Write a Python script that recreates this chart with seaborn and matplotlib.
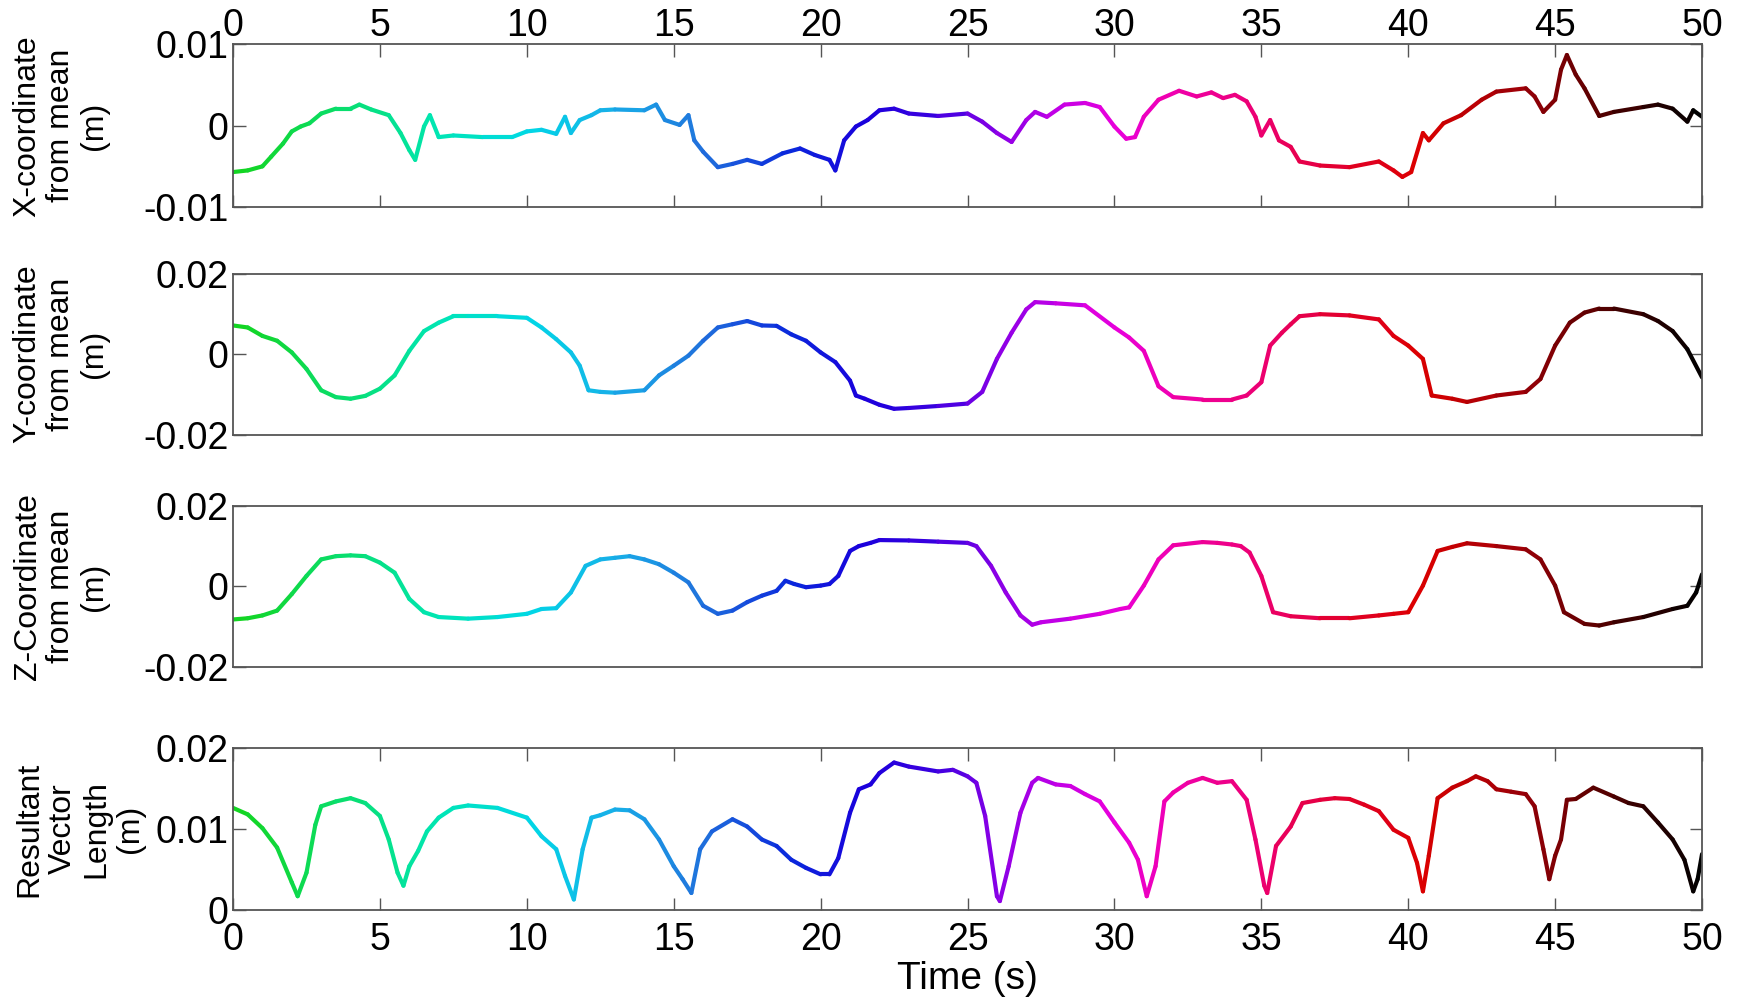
import numpy as np
import pandas as pd
import matplotlib
matplotlib.use("Agg")
import matplotlib.pyplot as plt
from matplotlib.colors import LinearSegmentedColormap
import seaborn as sns

# ---- X-coordinate deviation (m) ----
x_time = [0, 0.5, 1, 1.3, 1.7, 2.0, 2.3, 2.6, 3, 3.5, 4, 4.3, 4.7, 5.3, 5.7, 6.0, 6.2, 6.5, 6.7, 7.0,
          7.5, 8.5, 9.5, 10, 10.5, 11, 11.3, 11.5, 11.8, 12.2, 12.5, 13, 14, 14.4, 14.7, 15.2, 15.5, 15.7, 16, 16.5,
          17, 17.5, 18, 18.7, 19.3, 19.8, 20.3, 20.5, 20.8, 21.2, 21.6, 22, 22.5, 23, 24, 25, 25.5, 26, 26.5, 27,
          27.3, 27.7, 28.3, 29, 29.5, 30, 30.4, 30.7, 31, 31.5, 32.2, 32.8, 33.3, 33.7, 34.1, 34.5, 34.8, 35.0, 35.3, 35.6,
          36, 36.3, 37, 38, 39, 39.5, 39.8, 40.1, 40.5, 40.7, 41.2, 41.8, 42.5, 43, 44, 44.3, 44.6, 45, 45.2, 45.4,
          45.7, 46, 46.5, 47, 48, 48.5, 49, 49.5, 49.7, 50]
x_dev = [-0.0057, -0.0055, -0.0050, -0.0038, -0.0022, -0.0007, -0.0001, 0.0003, 0.0015, 0.0021,
         0.0021, 0.0026, 0.0020, 0.0013, -0.0009, -0.0030, -0.0042, -0.0001, 0.0013, -0.0014,
         -0.0012, -0.0014, -0.0014, -0.0007, -0.0005, -0.0010, 0.0011, -0.0009, 0.0007, 0.0013,
         0.0019, 0.0020, 0.0019, 0.0026, 0.0007, 0.0001, 0.0013, -0.0018, -0.0032, -0.0051,
         -0.0047, -0.0042, -0.0047, -0.0034, -0.0028, -0.0036, -0.0042, -0.0055, -0.0018, -0.0001,
         0.0007, 0.0019, 0.0021, 0.0015, 0.0012, 0.0015, 0.0005, -0.0009, -0.0020, 0.0007,
         0.0017, 0.0011, 0.0026, 0.0028, 0.0023, -0.0001, -0.0016, -0.0014, 0.0011, 0.0032,
         0.0043, 0.0036, 0.0041, 0.0034, 0.0038, 0.0030, 0.0011, -0.0012, 0.0007, -0.0018,
         -0.0026, -0.0044, -0.0049, -0.0051, -0.0044, -0.0055, -0.0063, -0.0057, -0.0009, -0.0018,
         0.0003, 0.0013, 0.0032, 0.0042, 0.0046, 0.0036, 0.0017, 0.0032, 0.0069, 0.0087,
         0.0063, 0.0046, 0.0012, 0.0017, 0.0023, 0.0026, 0.0021, 0.0005, 0.0019, 0.0011]

# ---- Y-coordinate deviation (m) ----
y_time = [0, 0.5, 1, 1.5, 2, 2.5, 3, 3.5, 4, 4.5, 5, 5.5, 6, 6.5, 7, 7.5, 8, 9, 10, 10.5,
          11, 11.5, 11.8, 12.1, 12.5, 13, 14, 14.5, 15, 15.5, 16, 16.5, 17, 17.5, 18, 18.5, 19, 19.5, 20, 20.5,
          21, 21.2, 21.5, 22, 22.5, 23, 24, 25, 25.5, 26, 26.5, 27, 27.3, 28, 29, 30, 30.5, 31, 31.5, 32,
          33, 34, 34.5, 35, 35.3, 35.7, 36, 36.3, 37, 38, 39, 39.5, 40, 40.5, 40.8, 41.5, 42, 43, 44, 44.5,
          45, 45.5, 46, 46.5, 47, 48, 48.5, 49, 49.5, 50]
y_dev = [0.0071, 0.0066, 0.0045, 0.0033, 0.0004, -0.0037, -0.0090, -0.0107, -0.0111, -0.0104,
         -0.0086, -0.0053, 0.0008, 0.0057, 0.0078, 0.0094, 0.0094, 0.0094, 0.0090, 0.0066,
         0.0037, 0.0004, -0.0029, -0.0090, -0.0094, -0.0096, -0.0090, -0.0053, -0.0029, -0.0004,
         0.0033, 0.0066, 0.0074, 0.0082, 0.0071, 0.0070, 0.0049, 0.0033, 0.0004, -0.0020,
         -0.0066, -0.0103, -0.0111, -0.0126, -0.0136, -0.0134, -0.0129, -0.0123, -0.0094, -0.0012,
         0.0053, 0.0111, 0.0129, 0.0126, 0.0121, 0.0066, 0.0041, 0.0008, -0.0080, -0.0107,
         -0.0113, -0.0113, -0.0103, -0.0070, 0.0021, 0.0053, 0.0074, 0.0094, 0.0099, 0.0096,
         0.0086, 0.0045, 0.0021, -0.0012, -0.0103, -0.0111, -0.0119, -0.0103, -0.0094, -0.0062,
         0.0021, 0.0078, 0.0103, 0.0113, 0.0113, 0.0099, 0.0082, 0.0057, 0.0012, -0.0058]

# ---- Z-coordinate deviation (m) ----
z_time = [0, 0.5, 1, 1.5, 2, 2.5, 3, 3.5, 4, 4.5, 5, 5.5, 6, 6.5, 7, 8, 9, 10, 10.5, 11,
          11.5, 12, 12.5, 13, 13.5, 14, 14.5, 15, 15.5, 16, 16.5, 17, 17.5, 18, 18.5, 18.8, 19.1, 19.5, 20, 20.3,
          20.6, 21, 21.3, 21.7, 22, 23, 24, 25, 25.3, 25.8, 26.3, 26.8, 27.2, 27.5, 28.5, 29.5, 30.2, 30.5, 31, 31.5,
          32, 33, 33.5, 34, 34.3, 34.6, 35, 35.4, 36, 37, 38, 39, 39.5, 40, 40.5, 41, 41.5, 42, 43, 44,
          44.5, 45, 45.3, 46, 46.5, 47, 48, 49, 49.5, 49.8, 50]
z_dev = [-0.0082, -0.0079, -0.0072, -0.0060, -0.0019, 0.0026, 0.0067, 0.0075, 0.0077, 0.0075,
         0.0059, 0.0034, -0.0031, -0.0064, -0.0076, -0.0080, -0.0076, -0.0068, -0.0056, -0.0054,
         -0.0015, 0.0051, 0.0067, 0.0071, 0.0075, 0.0067, 0.0055, 0.0034, 0.0010, -0.0048,
         -0.0068, -0.0060, -0.0039, -0.0023, -0.0011, 0.0014, 0.0006, -0.0002, 0.0002, 0.0006,
         0.0026, 0.0088, 0.0100, 0.0108, 0.0115, 0.0114, 0.0111, 0.0108, 0.0100, 0.0051,
         -0.0015, -0.0072, -0.0095, -0.0089, -0.0080, -0.0068, -0.0056, -0.0052, 0.0002, 0.0067,
         0.0102, 0.0110, 0.0108, 0.0104, 0.0100, 0.0084, 0.0026, -0.0064, -0.0074, -0.0079,
         -0.0079, -0.0072, -0.0068, -0.0064, 0.0002, 0.0088, 0.0098, 0.0107, 0.0100, 0.0092,
         0.0067, 0.0002, -0.0064, -0.0093, -0.0097, -0.0089, -0.0076, -0.0056, -0.0048, -0.0015,
         0.0030]

# ---- Resultant vector length (m) ----
r_time = [0, 0.5, 1, 1.5, 2, 2.2, 2.5, 2.8, 3, 3.5, 4, 4.5, 5, 5.3, 5.6, 5.8, 6, 6.3, 6.6, 7,
          7.5, 8, 9, 10, 10.5, 11, 11.3, 11.6, 11.9, 12.2, 12.5, 13, 13.5, 14, 14.5, 15, 15.3, 15.6, 15.9, 16.3,
          17.0, 17.5, 18, 18.5, 19, 19.5, 20, 20.3, 20.6, 21, 21.3, 21.7, 22, 22.5, 23, 24, 24.5, 25, 25.3, 25.6,
          26, 26.1, 26.4, 26.8, 27.2, 27.4, 28, 28.5, 29, 29.5, 30, 30.5, 30.8, 31.1, 31.4, 31.7, 32, 32.5, 33, 33.5,
          34, 34.5, 34.8, 35.1, 35.2, 35.5, 36, 36.4, 37, 37.5, 38, 38.5, 39, 39.5, 40, 40.3, 40.5, 40.7, 41, 41.5,
          42, 42.3, 42.7, 43, 43.5, 44, 44.3, 44.6, 44.8, 45, 45.2, 45.4, 45.7, 46.3, 47, 47.5, 48, 48.5, 49, 49.4,
          49.7, 49.85, 50]
r_len = [0.0126, 0.0118, 0.0101, 0.0077, 0.0034, 0.0017, 0.0046, 0.0105, 0.0128, 0.0134,
         0.0138, 0.0132, 0.0116, 0.0087, 0.0046, 0.0030, 0.0054, 0.0073, 0.0097, 0.0114,
         0.0126, 0.0129, 0.0126, 0.0114, 0.0091, 0.0075, 0.0042, 0.0013, 0.0075, 0.0114,
         0.0117, 0.0124, 0.0123, 0.0112, 0.0087, 0.0054, 0.0038, 0.0021, 0.0075, 0.0097,
         0.0112, 0.0103, 0.0087, 0.0079, 0.0062, 0.0052, 0.0044, 0.0044, 0.0064, 0.0120,
         0.0149, 0.0155, 0.0169, 0.0182, 0.0177, 0.0171, 0.0173, 0.0165, 0.0157, 0.0116,
         0.0017, 0.0011, 0.0054, 0.0120, 0.0157, 0.0163, 0.0155, 0.0153, 0.0143, 0.0134,
         0.0108, 0.0083, 0.0062, 0.0017, 0.0054, 0.0134, 0.0145, 0.0157, 0.0163, 0.0157,
         0.0159, 0.0136, 0.0087, 0.0030, 0.0021, 0.0079, 0.0103, 0.0132, 0.0136, 0.0138,
         0.0137, 0.0130, 0.0122, 0.0099, 0.0089, 0.0058, 0.0023, 0.0067, 0.0138, 0.0151,
         0.0159, 0.0165, 0.0159, 0.0149, 0.0146, 0.0143, 0.0128, 0.0075, 0.0038, 0.0067,
         0.0087, 0.0136, 0.0137, 0.0151, 0.0140, 0.0132, 0.0128, 0.0108, 0.0087, 0.0062,
         0.0023, 0.0038, 0.0069]

# ---- axis ticks and labels ----
time_ticks = [0, 5, 10, 15, 20, 25, 30, 35, 40, 45, 50]
time_tick_labels = ["0", "5", "10", "15", "20", "25", "30", "35", "40", "45", "50"]
x_yticks = [-0.01, 0, 0.01]
x_ytick_labels = ["-0.01", "0", "0.01"]
yz_yticks = [-0.02, 0, 0.02]
yz_ytick_labels = ["-0.02", "0", "0.02"]
r_yticks = [0, 0.01, 0.02]
r_ytick_labels = ["0", "0.01", "0.02"]
panel_titles = ["X-coordinate\nfrom mean\n(m)", "Y-coordinate\nfrom mean\n(m)",
                "Z-Coordinate\nfrom mean\n(m)", "Resultant\nVector\nLength\n(m)"]
time_label = "Time (s)"

# colour runs with time: green -> cyan -> blue -> violet -> magenta -> red -> black
time_colors = [(0, "#14d41e"), (7, "#00e6b4"), (10, "#00d8e6"), (13, "#18aee8"),
               (16, "#2070dc"), (19, "#0a28dc"), (21.5, "#1a00dc"), (24, "#3c00e0"),
               (26, "#8800e6"), (28, "#c000e6"), (30, "#e800dc"), (32, "#f000b0"),
               (35, "#ec0070"), (38, "#e2002a"), (40.5, "#dc0000"), (44, "#980008"),
               (46.5, "#5a0000"), (50, "#000000")]

sns.set_theme(style="white")
plt.rcParams["font.family"] = ["Liberation Sans", "DejaVu Sans"]

cmap = LinearSegmentedColormap.from_list("time", [(t / 50.0, c) for t, c in time_colors])

fig = plt.figure(figsize=(17.43, 9.99), dpi=100)
fig.patch.set_facecolor("white")

left, width = 0.1337, 0.8428
boxes = [(0.7928, 0.1627), (0.5650, 0.1612), (0.3323, 0.1614), (0.0891, 0.1622)]
axes = [fig.add_axes([left, b, width, h]) for b, h in boxes]

EDGE = "#555555"
TICK_FS = 27


def draw_trace(ax, t, v):
    t = np.asarray(t, dtype=float)
    v = np.asarray(v, dtype=float)
    n = len(t) - 1
    idx = np.column_stack([np.arange(n), np.arange(1, n + 1)]).ravel()
    df = pd.DataFrame({"t": t[idx], "v": v[idx], "seg": np.repeat(np.arange(n), 2)})
    mids = 0.5 * (t[:-1] + t[1:])
    pal = {k: cmap(m / 50.0) for k, m in enumerate(mids)}
    sns.lineplot(data=df, x="t", y="v", hue="seg", palette=pal, estimator=None,
                 sort=False, legend=False, linewidth=3.0, ax=ax)
    for ln in ax.lines:
        ln.set_solid_capstyle("round")
        ln.set_solid_joinstyle("round")


series = [(x_time, x_dev), (y_time, y_dev), (z_time, z_dev), (r_time, r_len)]
ylims = [(-0.01, 0.01), (-0.02, 0.02), (-0.02, 0.02), (0, 0.02)]
yticks = [(x_yticks, x_ytick_labels), (yz_yticks, yz_ytick_labels),
          (yz_yticks, yz_ytick_labels), (r_yticks, r_ytick_labels)]
label_x = [-0.1171, -0.1171, -0.1171, -0.1045]

for i, ax in enumerate(axes):
    draw_trace(ax, *series[i])
    ax.set_facecolor("white")
    ax.grid(False)
    ax.set_xlim(0, 50)
    ax.set_ylim(*ylims[i])
    ax.set_xticks(time_ticks)
    ax.set_xticklabels(time_tick_labels)
    ax.set_yticks(yticks[i][0])
    ax.set_yticklabels(yticks[i][1])
    for sp in ax.spines.values():
        sp.set_visible(True)
        sp.set_color(EDGE)
        sp.set_linewidth(1.3)
    ax.tick_params(axis="y", direction="in", length=9, width=1.0, color=EDGE,
                   left=True, right=True, labelleft=True, labelright=False,
                   labelsize=TICK_FS, pad=3, labelcolor="black")
    if i == 0:
        ax.tick_params(axis="x", direction="in", length=9, width=1.0, color=EDGE,
                       top=True, bottom=True, labeltop=True, labelbottom=False,
                       labelsize=TICK_FS, pad=0, labelcolor="black")
    elif i == 3:
        ax.tick_params(axis="x", direction="in", length=9, width=1.0, color=EDGE,
                       top=True, bottom=True, labeltop=False, labelbottom=True,
                       labelsize=TICK_FS, pad=9, labelcolor="black")
    else:
        ax.tick_params(axis="x", top=False, bottom=False,
                       labeltop=False, labelbottom=False)
    ax.set_ylabel(panel_titles[i], fontsize=23, ha="center", va="center",
                  multialignment="center", linespacing=1.15, color="black")
    ax.yaxis.set_label_coords(label_x[i], 0.5)
    ax.set_xlabel("")

axes[3].set_xlabel(time_label, fontsize=28, labelpad=2, color="black")

fig.savefig("out.png", dpi=100, facecolor="white")
